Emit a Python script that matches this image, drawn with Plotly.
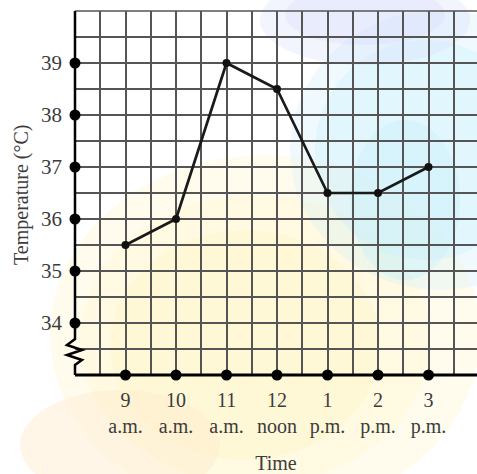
import plotly.graph_objects as go

# ---- data ----
hours = [9, 10, 11, 12, 13, 14, 15]
hour_labels = ["9", "10", "11", "12", "1", "2", "3"]
period_labels = ["a.m.", "a.m.", "a.m.", "noon", "p.m.", "p.m.", "p.m."]
temperatures = [35.5, 36, 39, 38.5, 36.5, 36.5, 37]
y_tick_values = [34, 35, 36, 37, 38, 39]
y_title = "Temperature (°C)"
x_title = "Time"

# ---- layout constants ----
W, H = 477, 474
ML, MR, MT, MB = 75, 0, 11, 99
PW, PH = W - ML - MR, H - MT - MB
X0, Y0 = 8, 33
X_RANGE = [X0, X0 + PW / 50.5]
Y_RANGE = [Y0, 40]

FONT = "Liberation Serif, Times New Roman, serif"
TXT = "#3c3c3c"

fig = go.Figure()

def fx(px):
    return (px - ML) / PW

def fy(py):
    return (H - MB - py) / PH

# watermark-like soft blobs
def pbox(cx, cy, rx, ry):
    return dict(x0=fx(cx - rx), x1=fx(cx + rx), y0=fy(cy + ry), y1=fy(cy - ry))

blobs = [
    (265, 335, 215, 180, "rgba(255,247,205,0.35)"),
    (255, 340, 175, 145, "rgba(255,247,205,0.40)"),
    (245, 345, 135, 115, "rgba(255,245,200,0.40)"),
    (120, 445, 100, 55, "rgba(255,236,205,0.45)"),
    (440, 150, 150, 140, "rgba(200,238,252,0.28)"),
    (425, 150, 110, 110, "rgba(200,238,252,0.35)"),
    (405, 200, 55, 80, "rgba(195,242,252,0.35)"),
    (365, 20, 105, 45, "rgba(212,218,252,0.30)"),
    (365, 15, 80, 30, "rgba(212,218,252,0.30)"),
]
for cx, cy, rx, ry, col in blobs:
    fig.add_shape(type="circle", xref="paper", yref="paper", layer="below",
                  line=dict(width=0), fillcolor=col, **pbox(cx, cy, rx, ry))

# y-axis line with zigzag break (paper coords)
pts = [(ML, MT), (ML, 339), (ML - 8, 345), (ML + 7, 350), (ML - 8, 355),
       (ML + 7, 360), (ML, 365), (ML, H - MB)]
path = "M " + " L ".join(f"{fx(x)},{fy(y)}" for x, y in pts)
fig.add_shape(type="path", path=path, xref="paper", yref="paper", layer="above",
              line=dict(color="black", width=2.5))
# x-axis line
fig.add_shape(type="line", xref="paper", yref="paper", x0=0, x1=1, y0=0, y1=0,
              layer="above", line=dict(color="black", width=3))
# top border (grid line at 40)
fig.add_shape(type="line", xref="paper", yref="paper", x0=0, x1=1, y0=1, y1=1,
              layer="below", line=dict(color="#555", width=1.6))

# data line
fig.add_trace(go.Scatter(x=hours, y=temperatures, mode="lines+markers",
                         line=dict(color="#1a1a1a", width=2.7),
                         marker=dict(color="#111", size=8), cliponaxis=False,
                         showlegend=False, hoverinfo="skip"))
# dots on axes
fig.add_trace(go.Scatter(x=[X0] * len(y_tick_values), y=y_tick_values, mode="markers",
                         marker=dict(color="black", size=11), cliponaxis=False,
                         showlegend=False, hoverinfo="skip"))
fig.add_trace(go.Scatter(x=hours, y=[Y0] * len(hours), mode="markers",
                         marker=dict(color="black", size=11), cliponaxis=False,
                         showlegend=False, hoverinfo="skip"))

grid_col = "#555555"
fig.update_xaxes(range=X_RANGE, tickvals=hours, automargin=False,
                 ticktext=[f"{h}<br>{p}" for h, p in zip(hour_labels, period_labels)],
                 showgrid=True, gridcolor=grid_col, gridwidth=1.5,
                 minor=dict(tick0=X0, dtick=0.5, showgrid=True, gridcolor=grid_col, gridwidth=1.5),
                 showline=False, zeroline=False, ticks="", ticklabelstandoff=11,
                 tickfont=dict(family=FONT, size=20, color=TXT),
                 title=dict(text=x_title, font=dict(family=FONT, size=20, color=TXT), standoff=21))
fig.update_yaxes(range=Y_RANGE, tickvals=y_tick_values, automargin=False,
                 showgrid=True, gridcolor=grid_col, gridwidth=1.5,
                 minor=dict(tick0=Y0, dtick=0.5, showgrid=True, gridcolor=grid_col, gridwidth=1.5),
                 showline=False, zeroline=False, ticks="", ticklabelstandoff=12,
                 tickfont=dict(family=FONT, size=21, color=TXT))

fig.add_annotation(text=y_title, xref="paper", yref="paper", x=fx(21), y=fy(195),
                   xanchor="center", yanchor="middle", textangle=-90, showarrow=False,
                   font=dict(family=FONT, size=20, color=TXT))

fig.update_layout(width=W, height=H, margin=dict(l=ML, r=MR, t=MT, b=MB),
                  paper_bgcolor="white", plot_bgcolor="rgba(0,0,0,0)")

fig.write_html("out.html", config={"displayModeBar": False},
               post_script="document.body.style.margin='0';document.body.style.overflow='hidden';")
